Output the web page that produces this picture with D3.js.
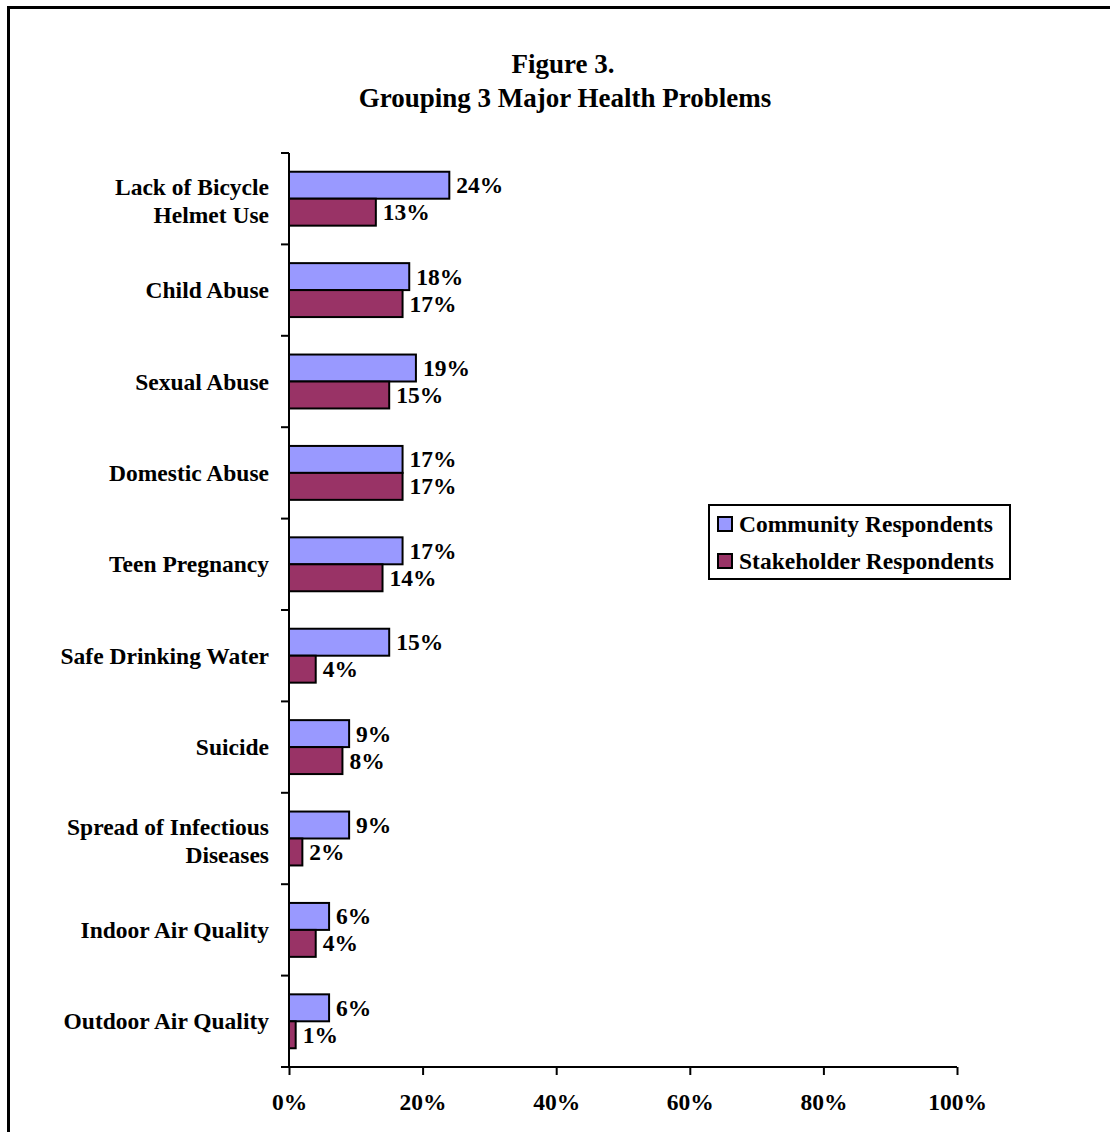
<!DOCTYPE html>
<html><head><meta charset="utf-8">
<script src="https://cdn.jsdelivr.net/npm/d3@7"></script>
<style>body{margin:0;background:#fff}svg{display:block}text{font-family:"Liberation Serif","Times New Roman",serif;font-weight:bold;fill:#000}</style>
</head><body><svg id="c" width="1110" height="1132"></svg>
<script>
const categories = [["Lack of Bicycle","Helmet Use"],["Child Abuse"],["Sexual Abuse"],["Domestic Abuse"],["Teen Pregnancy"],["Safe Drinking Water"],["Suicide"],["Spread of Infectious","Diseases"],["Indoor Air Quality"],["Outdoor Air Quality"]];
const community = [24,18,19,17,17,15,9,9,6,6];
const stakeholder = [13,17,15,17,14,4,8,2,4,1];
const seriesNames = ["Community Respondents","Stakeholder Respondents"];
const colors = ["#9999FF","#993366"];
const xTicks = [0,20,40,60,80,100];

const FS = 23.5;
const svg = d3.select("#c");
// frame
svg.append("path").attr("d","M8.5,1132 V7.5 H1110").attr("fill","none").attr("stroke","#000").attr("stroke-width",3);

svg.append("text").attr("x",563).attr("y",73).attr("text-anchor","middle").attr("font-size",27).text("Figure 3.");
svg.append("text").attr("x",565).attr("y",107).attr("text-anchor","middle").attr("font-size",27).text("Grouping 3 Major Health Problems");

const x = d3.scaleLinear().domain([0,100]).range([289,957]);
const y = d3.scaleBand().domain(d3.range(categories.length)).range([153,1067]).paddingInner(0.41).paddingOuter(0.205);
const sub = d3.scaleBand().domain([0,1]).range([0,y.bandwidth()]);

const g = svg.append("g");
const series = [community, stakeholder];
series.forEach((vals,si)=>{
  g.selectAll(null).data(vals).enter().append("rect")
    .attr("x",x(0)).attr("y",(d,i)=>y(i)+sub(si))
    .attr("width",d=>x(d)-x(0)).attr("height",sub.bandwidth())
    .attr("fill",colors[si]).attr("stroke","#000").attr("stroke-width",2);
  g.selectAll(null).data(vals).enter().append("text")
    .attr("x",d=>x(d)+7).attr("y",(d,i)=>y(i)+sub(si)+sub.bandwidth()/2+8)
    .attr("font-size",FS).text(d=>d+"%");
});

// y axis
const yAxisG = svg.append("g");
yAxisG.append("line").attr("x1",289).attr("x2",289).attr("y1",153).attr("y2",1067).attr("stroke","#000").attr("stroke-width",2);
const step = (1067-153)/categories.length;
d3.range(categories.length+1).forEach(i=>{
  yAxisG.append("line").attr("x1",281).attr("x2",289).attr("y1",153+i*step).attr("y2",153+i*step).attr("stroke","#000").attr("stroke-width",2);
});
categories.forEach((lines,i)=>{
  const cy = y(i)+y.bandwidth()/2;
  const t = svg.append("text").attr("text-anchor","end").attr("font-size",FS);
  lines.forEach((ln,k)=>{
    t.append("tspan").attr("x",269).attr("y",cy + 8 + (k-(lines.length-1)/2)*28 + (lines.length>1?2:0)).text(ln);
  });
});

// x axis
const xAxis = d3.axisBottom(x).tickValues(xTicks).tickSize(8).tickFormat(d=>d+"%");
const xa = svg.append("g").attr("transform","translate(0,1067)").call(xAxis);
xa.select(".domain").attr("stroke","#000").attr("stroke-width",2).attr("d","M281,0H957");
xa.selectAll(".tick line").attr("stroke","#000").attr("stroke-width",2);
xa.selectAll(".tick text").attr("font-size",FS).attr("dy",0).attr("y",43)
  .style("font-family","'Liberation Serif',serif").style("font-weight","bold").attr("fill","#000");

// legend
const lg = svg.append("g");
lg.append("rect").attr("x",709).attr("y",505).attr("width",301).attr("height",74).attr("fill","#fff").attr("stroke","#000").attr("stroke-width",2);
seriesNames.forEach((n,i)=>{
  const yy = 517+i*37;
  lg.append("rect").attr("x",718).attr("y",yy).attr("width",14).attr("height",14).attr("fill",colors[i]).attr("stroke","#000").attr("stroke-width",2);
  lg.append("text").attr("x",739).attr("y",yy+15).attr("font-size",FS).text(n);
});
</script></body></html>
